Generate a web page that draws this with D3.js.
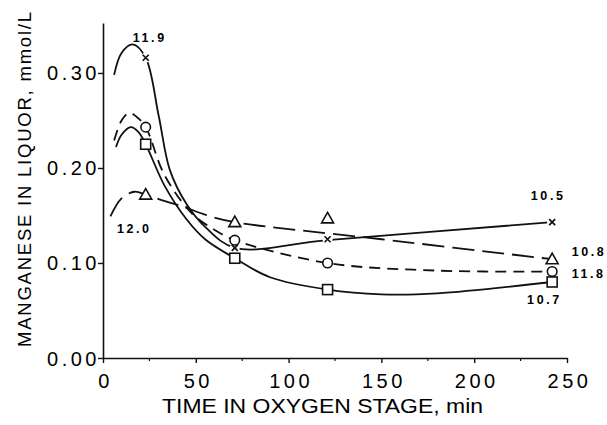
<!DOCTYPE html>
<html>
<head>
<meta charset="utf-8">
<script src="https://cdn.jsdelivr.net/npm/d3@7"></script>
<style>
  html, body { margin: 0; padding: 0; background: #fff; }
  svg { display: block; }
  text { font-family: "Liberation Sans", Arial, sans-serif; fill: #000; }
</style>
</head>
<body>
<svg id="chart" width="607" height="425"></svg>
<script>
// ---- data ----
const sampleTimes = [23, 71, 121, 242];           // min
const crossValues    = [0.316, 0.116, 0.125, 0.143];  // ×, solid
const circleValues   = [0.243, 0.124, 0.100, 0.091];  // ○, short dash
const squareValues   = [0.225, 0.105, 0.072, 0.080];  // □, solid
const triangleValues = [0.172, 0.143, 0.147, 0.104];  // △, long dash

// hand-drawn curve traces (time, value)
const crossTraceT = [6, 10, 16, 23, 30, 36, 45, 55, 71, 121, 242];
const crossTraceV = [0.298, 0.321, 0.330, 0.316, 0.255, 0.198, 0.162, 0.138, 0.116, 0.124, 0.143];
const circleTraceT = [6, 10, 14, 18, 23, 33, 48, 60, 71, 121, 180, 242];
const circleTraceV = [0.229, 0.250, 0.258, 0.254, 0.243, 0.193, 0.152, 0.135, 0.124, 0.100, 0.092, 0.091];
const squareTraceT = [7, 10, 15, 19, 23, 33, 45, 55, 71, 90, 121, 150, 180, 242];
const squareTraceV = [0.222, 0.235, 0.243, 0.238, 0.225, 0.182, 0.146, 0.125, 0.105, 0.085, 0.072, 0.067, 0.068, 0.080];
const triangleTraceT = [4, 10, 17, 23, 32, 42, 58, 71, 150, 242];
const triangleTraceV = [0.149, 0.168, 0.175, 0.172, 0.166, 0.160, 0.149, 0.143, 0.125, 0.104];

const xTicks = [0, 50, 100, 150, 200, 250];
const xMinorTicks = [25, 75, 125, 175, 225];
const yTicks = [0.00, 0.10, 0.20, 0.30];

const labelTexts = ["11.9", "12.0", "10.5", "10.8", "11.8", "10.7"];
const labelT     = [16.0, 7.5, 230.5, 252.5, 252.5, 228.5];
const labelV     = [0.333, 0.132, 0.166, 0.107, 0.084, 0.057];

const xTitle = "TIME IN OXYGEN STAGE, min";
const yTitle = "MANGANESE IN LIQUOR, mmol/L";

// ---- drawing ----
const svg = d3.select("#chart");
const x = d3.scaleLinear().domain([0, 250]).range([103, 567]);
const y = d3.scaleLinear().domain([0, 0.3526]).range([358, 23]);

const ink = "#111";

// x axis
const gx = svg.append("g").attr("transform", `translate(0,${y(0)})`);
gx.call(d3.axisBottom(x).tickValues(xTicks).tickSize(5).tickSizeOuter(0).tickFormat(d3.format("d")));
gx.select(".domain").attr("stroke", ink).attr("stroke-width", 1.6);
gx.selectAll(".tick line").attr("stroke", ink).attr("stroke-width", 1.4);
gx.selectAll(".tick text")
  .attr("y", 30).attr("dy", 0).attr("dx", 2)
  .style("font-size", "20px").attr("letter-spacing", "3.5px").attr("fill", ink);
svg.append("g").selectAll("line").data(xMinorTicks).join("line")
  .attr("x1", d => x(d)).attr("x2", d => x(d))
  .attr("y1", y(0)).attr("y2", y(0) + 3)
  .attr("stroke", ink).attr("stroke-width", 1.2);

// y axis
const gy = svg.append("g").attr("transform", `translate(${x(0)},0)`);
gy.call(d3.axisLeft(y).tickValues(yTicks).tickSize(5).tickSizeOuter(0).tickFormat(d3.format(".2f")));
gy.select(".domain").attr("stroke", ink).attr("stroke-width", 1.6);
gy.selectAll(".tick line").attr("stroke", ink).attr("stroke-width", 1.4);
gy.selectAll(".tick text")
  .attr("x", -3).attr("dy", "0.35em")
  .style("font-size", "20px").attr("letter-spacing", "3.5px").attr("fill", ink);

// axis titles
svg.append("text")
  .attr("x", 162).attr("y", 413)
  .attr("textLength", 321).attr("lengthAdjust", "spacingAndGlyphs")
  .style("font-size", "21px")
  .text(xTitle);
svg.append("text")
  .attr("transform", "translate(31,347) rotate(-90)")
  .attr("textLength", 335).attr("lengthAdjust", "spacing")
  .style("font-size", "18.5px")
  .text(yTitle);

// curves
function trace(ts, vs) { return ts.map((t, i) => [t, vs[i]]); }
const line = d3.line().x(d => x(d[0])).y(d => y(d[1])).curve(d3.curveCatmullRom.alpha(0.5));

const curves = [
  { pts: trace(crossTraceT, crossTraceV), dash: null },
  { pts: trace(squareTraceT, squareTraceV), dash: null },
  { pts: trace(circleTraceT, circleTraceV), dash: "11,7" },
  { pts: trace(triangleTraceT, triangleTraceV), dash: "22,8" }
];
svg.append("g").selectAll("path").data(curves).join("path")
  .attr("d", d => line(d.pts))
  .attr("fill", "none")
  .attr("stroke", ink)
  .attr("stroke-width", 1.8)
  .attr("stroke-dasharray", d => d.dash);

// markers
const mk = svg.append("g");
const pts = (vals) => sampleTimes.map((t, i) => [t, vals[i]]);

// × with white gap behind
mk.selectAll(".xbg").data(pts(crossValues)).join("circle")
  .attr("cx", d => x(d[0])).attr("cy", d => y(d[1])).attr("r", 5).attr("fill", "#fff");
mk.selectAll(".xm").data(pts(crossValues)).join("path")
  .attr("d", d => { const cx = x(d[0]), cy = y(d[1]), s = 3;
    return `M${cx-s},${cy-s}L${cx+s},${cy+s}M${cx-s},${cy+s}L${cx+s},${cy-s}`; })
  .attr("stroke", ink).attr("stroke-width", 1.7);

mk.selectAll(".cm").data(pts(circleValues)).join("circle")
  .attr("cx", d => x(d[0])).attr("cy", d => y(d[1])).attr("r", 4.8)
  .attr("fill", "#fff").attr("stroke", ink).attr("stroke-width", 1.6);

mk.selectAll(".sm").data(pts(squareValues)).join("rect")
  .attr("x", d => x(d[0]) - 5).attr("y", d => y(d[1]) - 5)
  .attr("width", 10).attr("height", 10)
  .attr("fill", "#fff").attr("stroke", ink).attr("stroke-width", 1.6);

mk.selectAll(".tm").data(pts(triangleValues)).join("path")
  .attr("d", d => { const cx = x(d[0]), cy = y(d[1]);
    return `M${cx},${cy-6}L${cx+6},${cy+4.5}L${cx-6},${cy+4.5}Z`; })
  .attr("fill", "#fff").attr("stroke", ink).attr("stroke-width", 1.6);

// pH labels
svg.append("g").selectAll("text").data(labelTexts).join("text")
  .attr("x", (d, i) => x(labelT[i]))
  .attr("y", (d, i) => y(labelV[i]))
  .style("font-size", "12.5px").style("font-weight", "bold")
  .attr("letter-spacing", "2.6px")
  .text(d => d);
</script>
</body>
</html>
